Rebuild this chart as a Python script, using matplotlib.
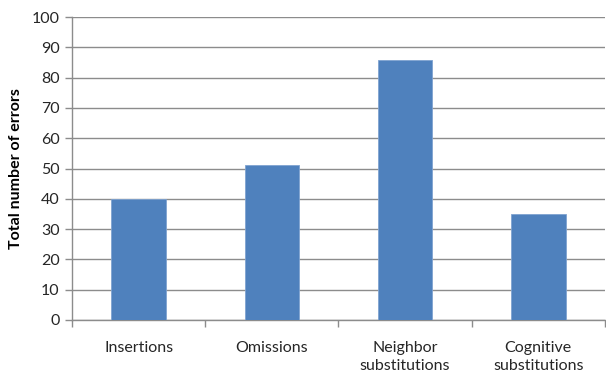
import matplotlib.pyplot as plt
import numpy as np

#--------------------------------------------------
#datos
categorias = ["Insertions", "Omissions", "Neighbor\nsubstitutions", "Cognitive\nsubstitutions"]
errores = [40, 51, 86, 35]
yticks = list(range(0, 101, 10))

#--------------------------------------------------
plt.rcParams['font.family'] = ['Lato', 'DejaVu Sans']

fig = plt.figure(figsize=(6.06, 3.72), dpi=100)
ax = fig.add_axes([0.119, 0.14, 0.879, 0.814])

x = np.arange(len(categorias))
ax.bar(x, errores, width=0.41, color="#4F81BD", edgecolor="#7FA3D1", linewidth=0.6, zorder=3)

ax.set_xlim(-0.5, len(categorias) - 0.5)
ax.set_ylim(0, 100)
ax.set_yticks(yticks)
ax.yaxis.grid(True, color="#8C8C8C", linewidth=1.0, zorder=0)

# ticks en los limites de categoria
ax.set_xticks(np.arange(len(categorias) + 1) - 0.5)
ax.set_xticklabels([])
ax.set_xticks(x, minor=True)
ax.set_xticklabels(categorias, minor=True, fontsize=11.5, color="#262626", linespacing=1.4)
ax.tick_params(axis="x", which="minor", length=0, pad=15)
ax.tick_params(axis="x", which="major", length=5, color="#8C8C8C", width=1)
ax.tick_params(axis="y", length=5, color="#8C8C8C", width=1, labelsize=11.5, labelcolor="#262626", pad=4)

for s in ["top", "right"]:
    ax.spines[s].set_visible(False)
for s in ["left", "bottom"]:
    ax.spines[s].set_color("#8C8C8C")
    ax.spines[s].set_linewidth(1)

ax.set_ylabel("Total number of errors", fontsize=11.5, fontweight="bold", labelpad=6)

fig.savefig("out.png", dpi=100)
